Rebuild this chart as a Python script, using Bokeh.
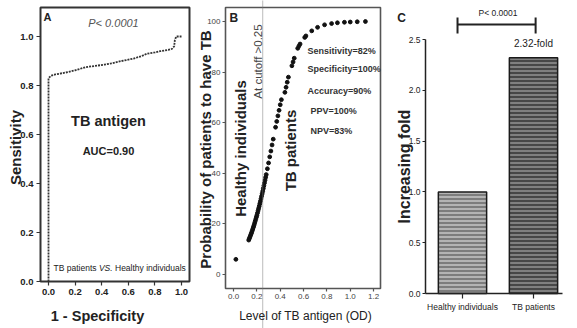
import math
from bokeh.plotting import figure
from bokeh.layouts import row
from bokeh.models import Label, Span, FixedTicker, NumeralTickFormatter, ColumnDataSource
from bokeh.embed import file_html
from bokeh.resources import INLINE

SANS = "Liberation Sans"
INK = "#222222"

# ---------------- data ----------------
# Panel A: ROC curve
roc_fpr = [0, 0, 0.02, 0.05, 0.10, 0.15, 0.20, 0.28, 0.35, 0.42, 0.47, 0.55, 0.64,
           0.70, 0.74, 0.80, 0.84, 0.90, 0.93, 0.945, 0.95, 0.96, 1.0]
roc_tpr = [0, 0.83, 0.84, 0.845, 0.85, 0.855, 0.862, 0.875, 0.88, 0.885, 0.89, 0.90, 0.91,
           0.92, 0.93, 0.935, 0.94, 0.945, 0.95, 0.96, 0.985, 1.0, 1.0]
roc_ticks = [0, 0.2, 0.4, 0.6, 0.8, 1.0]
auc_value = 0.90
p_text = "P< 0.0001"

# Panel B: probability of TB vs antigen level
od_level = [0.02,
            0.130, 0.135, 0.140, 0.145, 0.150, 0.155, 0.160, 0.165, 0.170, 0.175,
            0.180, 0.185, 0.190, 0.195, 0.200, 0.205, 0.210, 0.215, 0.220, 0.225,
            0.230, 0.235, 0.240, 0.245, 0.250, 0.255, 0.260, 0.265, 0.270, 0.275, 0.280,
            0.29, 0.30, 0.31, 0.32, 0.33, 0.34,
            0.36, 0.37, 0.38, 0.39, 0.40, 0.41,
            0.44, 0.45, 0.46, 0.47,
            0.50, 0.51, 0.52,
            0.55, 0.56, 0.57,
            0.61, 0.62,
            0.67, 0.72, 0.78, 0.84, 0.89, 0.95, 1.00, 1.06, 1.13]
prob_tb = [6,
           13.6, 14.2, 14.8, 15.4, 16.0, 16.6, 17.3, 18.0, 18.7, 19.4,
           20.2, 21.0, 21.8, 22.6, 23.4, 24.3, 25.2, 26.1, 27.0, 28.0,
           28.9, 29.9, 30.9, 31.9, 32.9, 34.0, 35.1, 36.2, 37.3, 38.4, 39.5,
           41.8, 44.1, 46.5, 48.8, 51.2, 53.5,
           58.2, 60.5, 62.7, 64.9, 67.1, 69.1,
           72.0, 74.0, 76.0, 78.0,
           82.5, 84.0, 85.5,
           89.4, 90.3, 91.1,
           93.7, 94.3,
           96.3, 97.7, 98.7, 99.2, 99.5, 99.7, 99.8, 99.9, 100.0]
od_ticks = [0, 0.2, 0.4, 0.6, 0.8, 1.0, 1.2]
prob_ticks = [0, 20, 40, 60, 80, 100]
cutoff = 0.25
stats_lines = ["Sensitivity=82%", "Specificity=100%", "Accuracy=90%", "PPV=100%", "NPV=83%"]

# Panel C: fold change
groups = ["Healthy individuals", "TB patients"]
fold_change = [1.0, 2.32]
fold_ticks = [0, 0.5, 1.0, 1.5, 2.0, 2.5]


# ------------- page-pixel -> data helpers (layout only) -------------
def ax_(px): return (px - 48) / 133.0
def ay_(py): return (281 - py) / 245.0
def bx_(px): return -0.069 + (px - 225) / 116.7
def by_(py): return (274 - py) / 2.53
def cx_(px): return 0.479 + (px - 425) / 71.0
def cy_(py): return (293 - py) / 101.6


def add_text(p, x, y, text, size, style="normal", align="center", angle=0.0, color=INK):
    p.add_layout(Label(x=x, y=y, text=text, text_font=SANS,
                       text_font_size=f"{size}px", text_font_style=style,
                       text_color=color, text_align=align, text_baseline="middle",
                       angle=angle))


def style_axis(ax, size, style="normal", color=INK, tick_out=4, standoff=3,
               line_color=INK, line_width=1.5, show_line=True):
    ax.major_label_text_font = SANS
    ax.major_label_text_font_size = f"{size}px"
    ax.major_label_text_font_style = style
    ax.major_label_text_color = color
    ax.major_tick_out = tick_out
    ax.major_tick_in = 0
    ax.minor_tick_out = 0
    ax.minor_tick_in = 0
    ax.major_label_standoff = standoff
    ax.axis_line_color = line_color if show_line else None
    ax.axis_line_width = line_width
    ax.major_tick_line_color = line_color
    ax.major_tick_line_width = 1.2


def base_fig(width, x_range, y_range):
    p = figure(width=width, height=328, x_range=x_range, y_range=y_range,
               output_backend="svg", toolbar_location=None,
               min_border_left=0, min_border_right=0,
               min_border_top=0, min_border_bottom=0)
    p.grid.visible = False
    p.outline_line_color = None
    p.background_fill_color = "white"
    p.border_fill_color = "white"
    return p


# ---------------- Panel A ----------------
pA = base_fig(195, (ax_(0), ax_(195)), (ay_(328), ay_(0)))
pA.xaxis.fixed_location = 0
pA.yaxis.fixed_location = ax_(40)
pA.xaxis.ticker = FixedTicker(ticks=roc_ticks)
pA.yaxis.ticker = FixedTicker(ticks=roc_ticks)
pA.xaxis.formatter = NumeralTickFormatter(format="0.0")
pA.yaxis.formatter = NumeralTickFormatter(format="0.0")
style_axis(pA.xaxis[0], 9.5, "bold", line_color="#333333", show_line=False)
style_axis(pA.yaxis[0], 9.5, "bold", line_color="#333333", show_line=False)
# panel frame box
pA.quad(left=[ax_(40)], right=[ax_(189)], bottom=[0], top=[ay_(7)],
        fill_color=None, line_color="#333333", line_width=2)
pA.line(roc_fpr, roc_tpr, line_color="#333333", line_width=1.8, line_dash="2 1")

add_text(pA, ax_(43), ay_(16), "A", 11, style="bold", align="left")
add_text(pA, ax_(113), ay_(22), p_text, 11, style="italic", color="#555555")
add_text(pA, ax_(108), ay_(120), "TB antigen", 14.5, style="bold")
add_text(pA, ax_(108), ay_(150), f"AUC={auc_value:.2f}", 11, style="bold")
add_text(pA, ax_(53), ay_(267), "TB patients", 8.5, align="left")
add_text(pA, ax_(98.4), ay_(267), "VS.", 8.5, style="italic", align="left")
add_text(pA, ax_(114.5), ay_(267), "Healthy individuals", 8.5, align="left")
add_text(pA, ax_(15), ay_(147), "Sensitivity", 15, style="bold", angle=math.pi / 2)
add_text(pA, ax_(97), ay_(315), "1 - Specificity", 14.5, style="bold")

# ---------------- Panel B ----------------
pB = base_fig(190, (bx_(195), bx_(385)), (by_(328), by_(0)))
pB.xaxis.fixed_location = by_(288)
pB.yaxis.fixed_location = bx_(225)
pB.xaxis.ticker = FixedTicker(ticks=od_ticks)
pB.yaxis.ticker = FixedTicker(ticks=prob_ticks)
pB.xaxis.formatter = NumeralTickFormatter(format="0.0")
style_axis(pB.xaxis[0], 8, color="#444444", tick_out=3, standoff=2, line_color="#555555", show_line=False)
style_axis(pB.yaxis[0], 8, color="#444444", tick_out=3, standoff=2, line_color="#555555", show_line=False)
pB.quad(left=[bx_(225)], right=[bx_(380)], bottom=[by_(288)], top=[by_(7)],
        fill_color=None, line_color="#555555", line_width=1.6)
pB.add_layout(Span(location=cutoff, dimension="height", line_color="#777777",
                   line_width=1, line_dash="1 1"))
pB.scatter(od_level, prob_tb, size=3.8, color="#111111")

add_text(pB, bx_(229), by_(17), "B", 12, style="bold", align="left")
add_text(pB, bx_(240), by_(148), "Healthy individuals", 15, style="bold", angle=math.pi / 2)
add_text(pB, bx_(257), by_(61), f"At cutoff >{cutoff:.2f}", 11.5, angle=math.pi / 2, color="#444444")
add_text(pB, bx_(290), by_(150), "TB patients", 15, style="bold", angle=math.pi / 2)
stat_py = [50, 68, 90, 110, 130]
stat_px = [307, 307, 307, 310, 310]
for spx, spy, s in zip(stat_px, stat_py, stats_lines):
    add_text(pB, bx_(spx), by_(spy), s, 9, style="bold", align="left", color="#333333")
add_text(pB, bx_(205), by_(149), "Probability of patients to have TB", 15, style="bold",
         angle=math.pi / 2)
add_text(pB, bx_(305), by_(315), "Level of TB antigen (OD)", 12)

# ---------------- Panel C ----------------
xpos = [i + 1 for i in range(len(groups))]
pC = base_fig(192, (cx_(385), cx_(577)), (cy_(328), cy_(0)))
pC.xaxis.fixed_location = 0
pC.yaxis.fixed_location = cx_(425)
pC.yaxis.ticker = FixedTicker(ticks=fold_ticks)
pC.yaxis.formatter = NumeralTickFormatter(format="0.0")
pC.yaxis.bounds = (0, fold_ticks[-1])
pC.xaxis.bounds = (cx_(425), cx_(562))
pC.xaxis.ticker = FixedTicker(ticks=xpos)
pC.xaxis.major_label_overrides = {x: g for x, g in zip(xpos, groups)}
style_axis(pC.xaxis[0], 8.5, tick_out=5, standoff=3)
style_axis(pC.yaxis[0], 8.5, tick_out=3, standoff=2)

src = ColumnDataSource(dict(x=xpos, top=fold_change,
                            fill=["#b4b4b4", "#474747"],
                            hatch=["#6e6e6e", "#8f8f8f"]))
pC.vbar(x="x", top="top", bottom=0, width=0.68, source=src,
        fill_color="fill", hatch_pattern="horizontal_line", hatch_color="hatch",
        hatch_scale=4, hatch_weight=1.6, line_color="#1a1a1a", line_width=1.5)

bx0, bx1 = xpos[0] - 0.07, xpos[1] + 0.03
pC.line([bx0, bx1], [cy_(24), cy_(24)], line_color=INK, line_width=2)
pC.segment(x0=[bx0, bx1], y0=[cy_(33)] * 2, x1=[bx0, bx1], y1=[cy_(17)] * 2,
           line_color=INK, line_width=2)
add_text(pC, (xpos[0] + xpos[1]) / 2, cy_(12), p_text, 8.5)
add_text(pC, xpos[1], fold_change[1] + 0.14, f"{fold_change[1]:.2f}-fold", 10)
add_text(pC, cx_(401), cy_(17), "C", 12, style="bold")
add_text(pC, cx_(404), cy_(166), "Increasing fold", 16, style="bold", angle=math.pi / 2)

layout = row(pA, pB, pC)
open("out.html", "w").write(file_html(layout, INLINE))
